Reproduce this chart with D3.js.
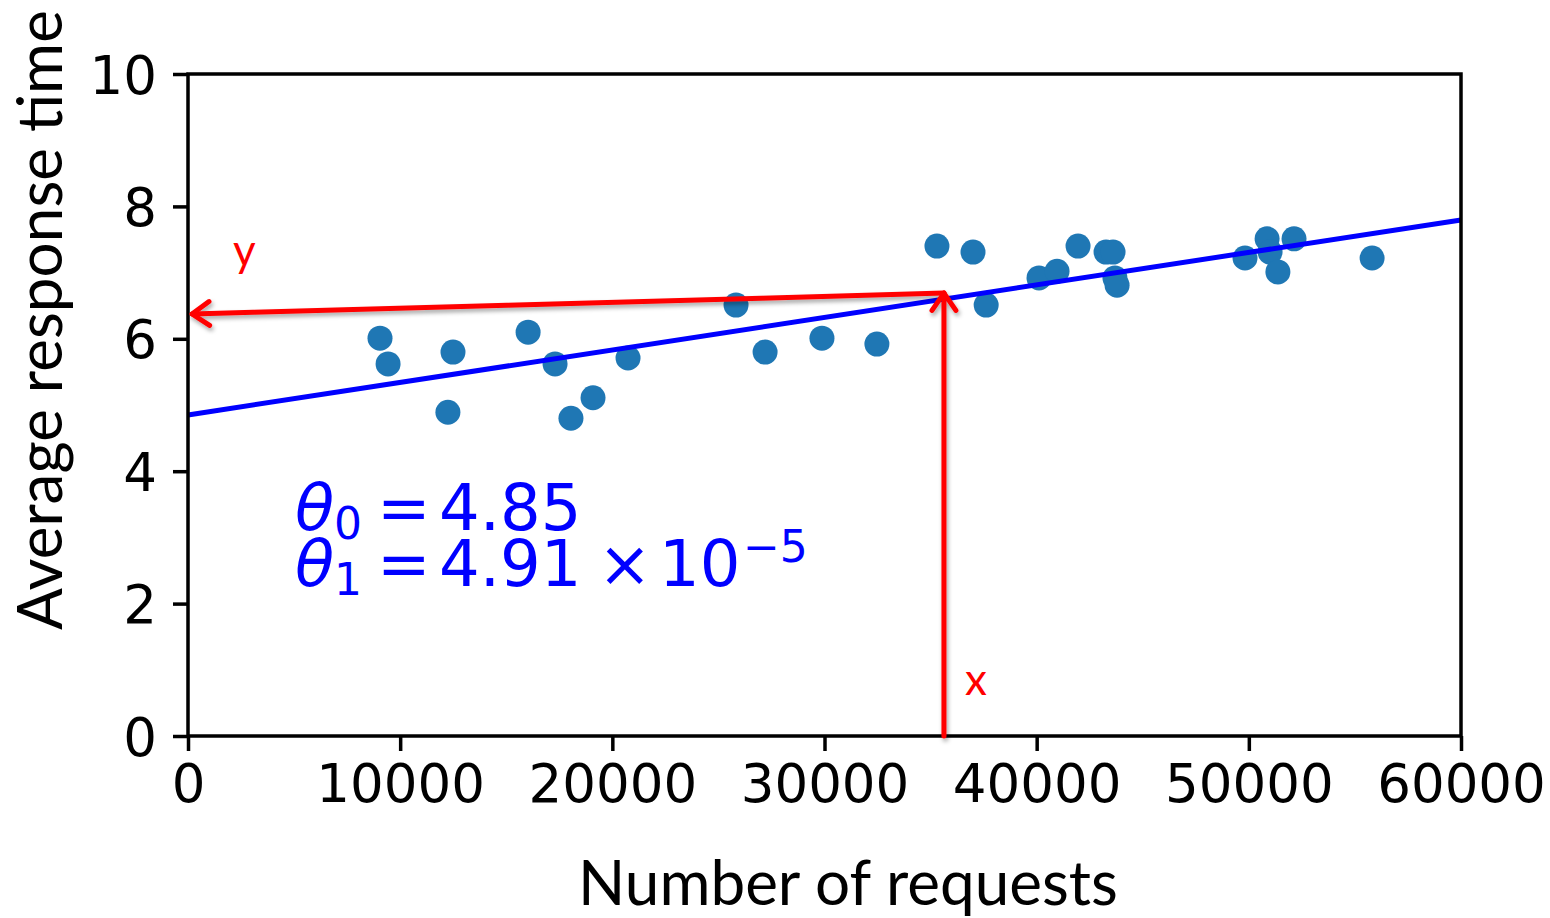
<!DOCTYPE html>
<html>
<head>
<meta charset="utf-8">
<script src="https://cdn.jsdelivr.net/npm/d3@7"></script>
<style>
  html, body { margin: 0; padding: 0; background: #fff; }
  svg { display: block; }
</style>
</head>
<body>
<svg id="chart" width="1550" height="918"></svg>
<script>
// Observed workload: number of requests vs. average response time
const requests = [9050, 9430, 12250, 12490, 16030, 17300, 18050, 19090, 20740,
  25830, 27200, 29880, 32470, 35300, 37000, 37620, 40110, 40960, 41950, 43270,
  43600, 43690, 43790, 49820, 50860, 51000, 51370, 52130, 55810];
const responseTimes = [6.01, 5.62, 4.89, 5.80, 6.10, 5.62, 4.80, 5.11, 5.71,
  6.51, 5.80, 6.01, 5.92, 7.40, 7.31, 6.51, 6.92, 7.02, 7.40, 7.31,
  7.31, 6.92, 6.81, 7.22, 7.51, 7.31, 7.01, 7.51, 7.22];

// Fitted linear model y = theta0 + theta1 * x
const theta0 = 4.85;
const theta1 = 4.91e-5;

// Axis ticks
const xTicks = [0, 10000, 20000, 30000, 40000, 50000, 60000];
const yTicks = [0, 2, 4, 6, 8, 10];

// Prediction read-out: go up from x, then across to y
const readX = [35630, 35630];      // vertical arrow (from, to)
const readXY = [0, 6.69];
const readY = [35630, 190];        // horizontal arrow (from, to)
const readYY = [6.69, 6.375];

const svg = d3.select("#chart");
const plotLeft = 188, plotRight = 1461, plotTop = 74, plotBottom = 736;

const x = d3.scaleLinear().domain([0, 60000]).range([plotLeft, plotRight]);
const y = d3.scaleLinear().domain([0, 10]).range([plotBottom, plotTop]);

const defs = svg.append("defs");
const shadow = defs.append("filter").attr("id", "shadow")
  .attr("x", "-20%").attr("y", "-20%").attr("width", "140%").attr("height", "140%");
shadow.append("feDropShadow").attr("dx", 1.5).attr("dy", 3)
  .attr("stdDeviation", 2).attr("flood-color", "#000").attr("flood-opacity", 0.35);

// Scatter points
svg.append("g").selectAll("circle")
  .data(requests.map((r, i) => [r, responseTimes[i]]))
  .join("circle")
  .attr("cx", d => x(d[0]))
  .attr("cy", d => y(d[1]))
  .attr("r", 12.5)
  .attr("fill", "#1f77b4");

// Regression line
const lineX = [0, 60000];
svg.append("path")
  .datum(lineX.map(v => [v, theta0 + theta1 * v]))
  .attr("d", d3.line().x(d => x(d[0])).y(d => y(d[1])))
  .attr("fill", "none")
  .attr("stroke", "#0000ff")
  .attr("stroke-width", 5);

// Axes
const tickFont = "DejaVu Sans";
const xAxis = svg.append("g").attr("transform", `translate(0,${plotBottom})`)
  .call(d3.axisBottom(x).tickValues(xTicks).tickFormat(d3.format("d"))
    .tickSizeInner(15).tickSizeOuter(0).tickPadding(13));
const yAxis = svg.append("g").attr("transform", `translate(${plotLeft},0)`)
  .call(d3.axisLeft(y).tickValues(yTicks).tickFormat(d3.format("d"))
    .tickSizeInner(15).tickSizeOuter(0).tickPadding(16));
[xAxis, yAxis].forEach(g => {
  g.select(".domain").remove();
  g.selectAll(".tick line").attr("stroke", "#000").attr("stroke-width", 3.5);
  g.selectAll(".tick text").attr("fill", "#000")
    .style("font-family", tickFont).style("font-size", "53px");
});
xAxis.selectAll(".tick text").attr("dy", "0.71em");
yAxis.selectAll(".tick text").attr("dy", "0.36em");

// Frame
svg.append("rect")
  .attr("x", plotLeft).attr("y", plotTop)
  .attr("width", plotRight - plotLeft).attr("height", plotBottom - plotTop)
  .attr("fill", "none").attr("stroke", "#000").attr("stroke-width", 3.5);

// Axis titles
const labelFont = "Lato";
function fitWidth(sel, target) {
  const len = sel.node().getComputedTextLength();
  const size = parseFloat(sel.style("font-size"));
  sel.style("font-size", (size * target / len) + "px");
}
const xTitle = svg.append("text")
  .attr("x", (578 + 1118) / 2).attr("y", 905)
  .attr("text-anchor", "middle")
  .style("font-family", labelFont).style("font-size", "52px")
  .attr("fill", "#000")
  .text("Number of requests");
fitWidth(xTitle, 540);

const yTitle = svg.append("text")
  .attr("transform", "translate(62,320) rotate(-90)")
  .attr("text-anchor", "middle")
  .style("font-family", labelFont).style("font-size", "52px")
  .attr("fill", "#000")
  .text("Average response time");
fitWidth(yTitle, 620);

// Model parameters, two lines in one text block
const eq = svg.append("text").attr("fill", "#0000ff")
  .style("font-family", "DejaVu Sans").style("font-size", "64px");
function eqLine(base, sub, value) {
  eq.append("tspan").attr("x", 295).attr("y", base).style("font-style", "italic").text("θ");
  eq.append("tspan").attr("x", 334).attr("y", base + 9).style("font-size", "44px").text(sub);
  eq.append("tspan").attr("x", 377).attr("y", base).text("=");
  eq.append("tspan").attr("x", 439).attr("y", base).text(value);
}
eqLine(530, "0", "4.85");
eqLine(586, "1", "4.91");
eq.append("tspan").attr("x", 598).attr("y", 586).text("×");
eq.append("tspan").attr("x", 659).attr("y", 586).text("10");
eq.append("tspan").attr("x", 743).attr("y", 562).style("font-size", "44px").text("−5");

// Read-out arrows
const ann = svg.append("g").attr("filter", "url(#shadow)")
  .attr("stroke", "#ff0000").attr("stroke-width", 5).attr("fill", "none")
  .attr("stroke-linecap", "round").attr("stroke-linejoin", "round");
function arrow(xs, ys) {
  const x0 = x(xs[0]), y0 = y(ys[0]), x1 = x(xs[1]), y1 = y(ys[1]);
  ann.append("line").attr("x1", x0).attr("y1", y0).attr("x2", x1).attr("y2", y1);
  const ang = Math.atan2(y1 - y0, x1 - x0);
  const L = 21, spread = Math.PI / 5.2;
  const p = [
    [x1 - L * Math.cos(ang - spread), y1 - L * Math.sin(ang - spread)],
    [x1, y1],
    [x1 - L * Math.cos(ang + spread), y1 - L * Math.sin(ang + spread)]
  ];
  ann.append("path").attr("d", d3.line()(p));
}
arrow(readX, readXY);
arrow(readY, readYY);

svg.append("text").attr("x", 965).attr("y", 695)
  .style("font-family", labelFont).style("font-size", "44px")
  .attr("fill", "#ff0000").text("x");
svg.append("text").attr("x", 233).attr("y", 266)
  .style("font-family", labelFont).style("font-size", "44px")
  .attr("fill", "#ff0000").text("y");
</script>
</body>
</html>
